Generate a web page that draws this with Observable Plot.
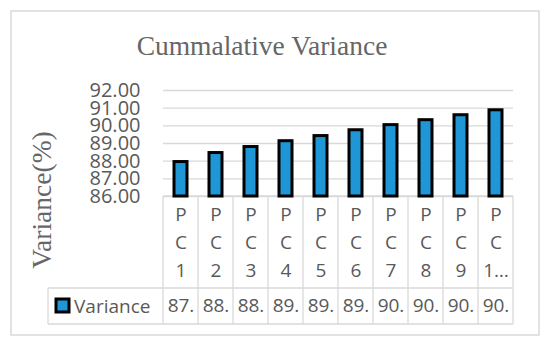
<!DOCTYPE html>
<html>
<head>
<meta charset="utf-8">
<script src="https://cdn.jsdelivr.net/npm/d3@7"></script>
<script src="https://cdn.jsdelivr.net/npm/@observablehq/plot@0.6"></script>
<style>
  html, body { margin: 0; padding: 0; background: #fff; }
  #chart { width: 550px; height: 347px; }
</style>
</head>
<body>
<div id="chart"></div>
<script>
// ---- data ----
const categories = ["PC1", "PC2", "PC3", "PC4", "PC5", "PC6", "PC7", "PC8", "PC9", "PC10"];
const values = [87.95, 88.46, 88.8, 89.13, 89.42, 89.75, 90.04, 90.32, 90.6, 90.88];
const yTicks = [86, 87, 88, 89, 90, 91, 92];
const chartTitle = "Cummalative Variance";
const yTitle = "Variance(%)";
const seriesName = "Variance";

const data = categories.map((c, i) => ({cat: c, v: values[i]}));
const sans = "'Open Sans', 'Noto Sans', sans-serif";
const serif = "'Liberation Serif', 'DejaVu Serif', serif";
const gray = "#595959";
const lineGray = "#d9d9d9";
const barBlue = "#1f96d6";

// Excel-style narrow-cell label: one character per line, 3 lines max
function cellLabel(s) {
  const ch = s.split("");
  if (ch.length <= 3) return ch.join("\n");
  return ch.slice(0, 2).join("\n") + "\n" + ch[2] + "\u2026";
}

const chart = Plot.plot({
  width: 550,
  height: 347,
  marginTop: 90,
  marginBottom: 151,
  marginLeft: 163,
  marginRight: 37,
  style: {fontFamily: sans, color: gray, background: "white", overflow: "visible"},
  x: {domain: categories, paddingInner: 0.63, paddingOuter: 0.315, label: null},
  y: {domain: [86, 92], label: null},
  marks: [
    Plot.gridY(yTicks, {stroke: lineGray, strokeOpacity: 1, strokeWidth: 1.3}),
    Plot.axisY(yTicks, {tickSize: 0, tickPadding: 23, tickFormat: d => d.toFixed(2), fontSize: 20, fill: gray, label: null}),
    Plot.barY(data, {x: "cat", y1: 86, y2: "v", fill: barBlue, stroke: "black", strokeWidth: 3}),
    Plot.axisX({tickSize: 0, tickPadding: 5, tickFormat: cellLabel, fontSize: 19, lineHeight: 1.47, fill: gray, label: null}),
    Plot.text(data, {x: "cat", text: d => Math.floor(d.v) + ".", frameAnchor: "bottom", dy: 115, fontSize: 19, fill: gray})
  ]
});
document.getElementById("chart").appendChild(chart);

// ---- table grid, legend key, titles and outer border, positioned with Plot's scales ----
const xs = chart.scale("x");
const ys = chart.scale("y");
const step = xs.step;
const svg = d3.select(chart);
const rowTop = ys.apply(86);
const rowMid = rowTop + 92;
const rowBot = rowMid + 36;
const legendLeft = 48;
const centers = categories.map(c => xs.apply(c) + xs.bandwidth / 2);
const edges = centers.map(c => c - step / 2).concat([centers[centers.length - 1] + step / 2]);
const g = svg.insert("g", ":first-child").attr("stroke", lineGray).attr("stroke-width", 1.3).attr("fill", "none");
g.append("rect").attr("x", 11).attr("y", 11).attr("width", 528).attr("height", 324).attr("stroke-width", 1.5);
edges.forEach(x => g.append("line").attr("x1", x).attr("x2", x).attr("y1", rowTop).attr("y2", rowBot));
g.append("line").attr("x1", edges[0]).attr("x2", edges[edges.length - 1]).attr("y1", rowTop).attr("y2", rowTop);
g.append("line").attr("x1", legendLeft).attr("x2", edges[edges.length - 1]).attr("y1", rowMid).attr("y2", rowMid);
g.append("line").attr("x1", legendLeft).attr("x2", edges[edges.length - 1]).attr("y1", rowBot).attr("y2", rowBot);
g.append("line").attr("x1", legendLeft).attr("x2", legendLeft).attr("y1", rowMid).attr("y2", rowBot);

const lg = svg.append("g");
lg.append("rect").attr("x", 56).attr("y", 299).attr("width", 13).attr("height", 13)
  .attr("fill", barBlue).attr("stroke", "black").attr("stroke-width", 3);
lg.append("text").attr("x", 74).attr("y", (rowMid + rowBot) / 2).attr("dy", "0.35em")
  .attr("text-anchor", "start")
  .attr("font-size", 19).attr("font-family", sans).attr("fill", gray).text(seriesName);

svg.append("text").attr("x", 262).attr("y", 55).attr("text-anchor", "middle")
  .attr("font-size", 27.5).attr("font-family", serif).attr("fill", "#666").text(chartTitle);
svg.append("text").attr("transform", "translate(41,200) rotate(-90)").attr("dy", "0.35em")
  .attr("text-anchor", "middle")
  .attr("font-size", 27.5).attr("font-family", serif).attr("fill", "#666").text(yTitle);
</script>
</body>
</html>
